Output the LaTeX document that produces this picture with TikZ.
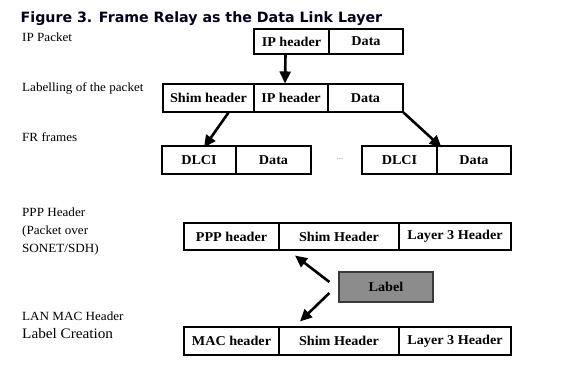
\documentclass[tikz,border=0pt]{standalone}
\usepackage{fontspec}
\setmainfont[FakeStretch=1.05]{Liberation Serif}
\newfontfamily\titlefont{DejaVu Sans}
\usetikzlibrary{arrows.meta}
\definecolor{lblgray}{HTML}{8C8C8C}
\definecolor{lblline}{HTML}{3A3A3A}
\begin{document}
\begin{tikzpicture}[x=1pt,y=-1pt,
  cell/.style={draw=black,line width=1.1pt,inner sep=0pt,font=\fontsize{13.5}{15}\selectfont\bfseries,anchor=center},
  sidelbl/.style={anchor=west,inner sep=0pt,font=\fontsize{12.5}{14}\selectfont,align=left},
  bigarrow/.style={line width=2.6pt,-{Triangle[length=12pt,width=11pt]}},
  lblbox/.style={draw=lblline,line width=1.2pt,fill=lblgray,inner sep=0pt,font=\fontsize{13.5}{15}\selectfont\bfseries}]
\useasboundingbox (0,0) rectangle (574,372);
\fill[white] (0,0) rectangle (574,372);
% title
\node[anchor=base west,inner sep=0pt,font=\titlefont\fontsize{14.2}{16}\selectfont\bfseries,text=black!90!blue] (title) at (20.5,22) {Figure 3. Frame Relay as the Data Link Layer};
% side labels
\node[sidelbl] (lip) at (22,37) {IP Packet};
\node[sidelbl] (llab) at (22,88) {Labelling of the packet};
\node[sidelbl] (lfr) at (22,137) {FR frames};
\node[sidelbl,anchor=north west,font=\fontsize{12.5}{18}\selectfont] (lppp) at (22,208) {PPP Header\\(Packet over\\SONET/SDH)};
\node[sidelbl] (llan) at (22,316.5) {LAN MAC Header};
\node[sidelbl,font=\fontsize{14.5}{16}\selectfont] (lcre) at (22,334) {Label Creation};
% row 1
\node[cell,minimum width=75pt,minimum height=25pt] (iph1) at (291.5,41.5) {IP header};
\node[cell,minimum width=74pt,minimum height=25pt] (data1) at (366,41.5) {Data};
% row 2
\node[cell,minimum width=91pt,minimum height=28pt] (shim2) at (208.5,98) {Shim header};
\node[cell,minimum width=74pt,minimum height=28pt] (iph2) at (291,98) {IP header};
\node[cell,minimum width=75pt,minimum height=28pt] (data2) at (365.5,98) {Data};
% row 3
\node[cell,minimum width=74pt,minimum height=28pt] (dlci3a) at (199,160) {DLCI};
\node[cell,minimum width=75pt,minimum height=28pt] (data3a) at (273.5,160) {Data};
\node[inner sep=0pt,font=\fontsize{8}{9}\selectfont,text=black!60] (dots) at (340,159) {...};
\node[cell,minimum width=75pt,minimum height=28pt] (dlci3b) at (399.5,160) {DLCI};
\node[cell,minimum width=74pt,minimum height=28pt] (data3b) at (474,160) {Data};
% row 4
\node[cell,minimum width=95pt,minimum height=27pt] (ppp) at (231.5,236.5) {PPP header};
\node[cell,minimum width=120pt,minimum height=27pt] (shim4) at (339,236.5) {Shim Header};
\node[cell,minimum width=112pt,minimum height=27pt] (l34) at (455,236.5) {Layer 3 Header};
% label
\node[lblbox,minimum width=94pt,minimum height=30pt] (lbl) at (386,287) {Label};
% row 5
\node[cell,minimum width=95pt,minimum height=28pt] (mac) at (231.5,341) {MAC header};
\node[cell,minimum width=120pt,minimum height=28pt] (shim5) at (339,341) {Shim Header};
\node[cell,minimum width=112pt,minimum height=28pt] (l35) at (455,341) {Layer 3 Header};
% arrows
\draw[bigarrow] ([xshift=-6pt]iph1.south) -- ([xshift=-6pt]iph2.north);
\draw[bigarrow] ([xshift=20pt]shim2.south) -- ([xshift=5pt,yshift=-2pt]dlci3a.north);
\draw[bigarrow] (data2.south east) -- ([xshift=4pt,yshift=-2pt]dlci3b.north east);
\draw[bigarrow] ([xshift=-9pt,yshift=5pt]lbl.west) -- ([xshift=-44pt,yshift=-5pt]shim4.south);
\draw[bigarrow] ([xshift=-9pt,yshift=-6pt]lbl.west) -- ([xshift=-39pt,yshift=5pt]shim5.north);
\end{tikzpicture}
\end{document}
